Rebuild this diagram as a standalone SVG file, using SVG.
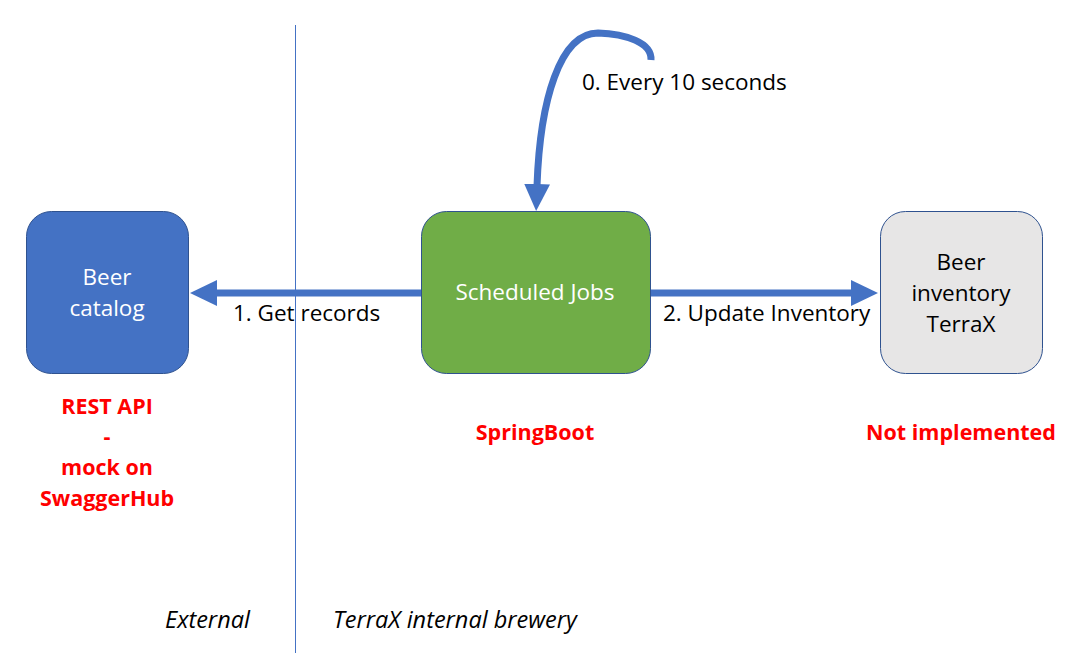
<svg xmlns="http://www.w3.org/2000/svg" width="1082" height="672" viewBox="0 0 1082 672">
<style>
text{font-family:"Open Sans","Liberation Sans",sans-serif;font-size:22.5px}
.w{fill:#fff;text-anchor:middle}
.k{fill:#000}
.c{text-anchor:middle}
.r{fill:#ff0000;font-weight:bold;text-anchor:middle;font-size:21.5px}
.i{font-style:italic;fill:#000;font-size:23.5px}
.con{stroke:#4472C4;stroke-width:7;fill:none}
</style>
<defs>
<marker id="ah" markerUnits="userSpaceOnUse" markerWidth="30" markerHeight="28" refX="2" refY="13" orient="auto">
<path d="M0,0 L27,13 L0,26 Z" fill="#4472C4"/>
</marker>
</defs>
<rect width="1082" height="672" fill="#fff"/>
<line x1="295.5" y1="25" x2="295.5" y2="653" stroke="#4472C4" stroke-width="1"/>
<g id="connectors">
<line class="con" x1="421" y1="293" x2="215" y2="293" marker-end="url(#ah)"/>
<line class="con" x1="650" y1="293" x2="853" y2="293" marker-end="url(#ah)"/>
<path class="con" d="M651,60 C652,42 625,34 598,33 C560,33 540,100 537,186" marker-end="url(#ah)"/>
<text class="k" x="582" y="90">0. Every 10 seconds</text>
<text class="k" x="233" y="321">1. Get records</text>
<text class="k" x="663" y="321">2. Update Inventory</text>
</g>
<g id="beer-catalog">
<rect x="26.5" y="211.5" width="162" height="162" rx="25" fill="#4472C4" stroke="#2F528F"/>
<text class="w" x="107" y="285">Beer</text>
<text class="w" x="107" y="316">catalog</text>
</g>
<g id="scheduled-jobs">
<rect x="421.5" y="211.5" width="229" height="162" rx="25" fill="#70AD47" stroke="#2F528F"/>
<text class="w" x="535" y="300">Scheduled Jobs</text>
</g>
<g id="beer-inventory">
<rect x="880.5" y="211.5" width="162" height="162" rx="25" fill="#E7E6E6" stroke="#2F528F"/>
<text class="k c" x="961" y="270">Beer</text>
<text class="k c" x="961" y="301">inventory</text>
<text class="k c" x="961" y="332">TerraX</text>
</g>
<g id="notes">
<text class="r" x="107" y="414">REST API</text>
<text class="r" x="107" y="444">-</text>
<text class="r" x="107" y="475">mock on</text>
<text class="r" x="107" y="506">SwaggerHub</text>
<text class="r" x="535" y="440">SpringBoot</text>
<text class="r" x="961" y="440">Not implemented</text>
<text class="i" x="165" y="628">External</text>
<text class="i" x="333" y="628">TerraX internal brewery</text>
</g>
</svg>
